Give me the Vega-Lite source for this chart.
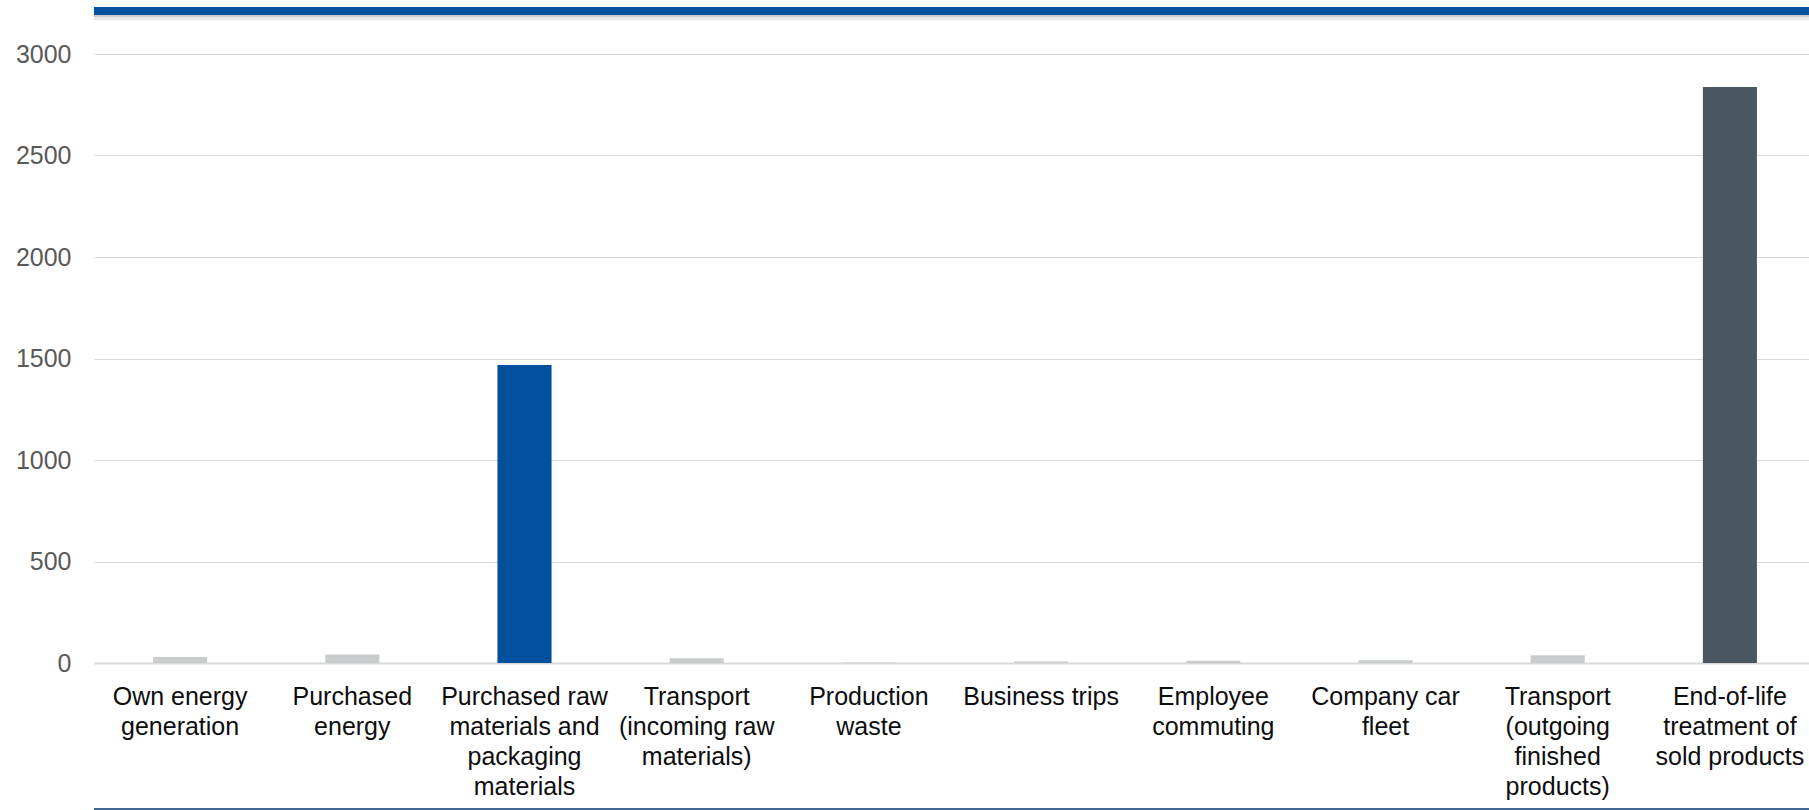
{
  "$schema": "https://vega.github.io/schema/vega-lite/v6.json",
  "autosize": {"type": "none"},
  "width": 1715,
  "height": 609,
  "padding": {"left": 94, "top": 54, "right": 0, "bottom": 147},
  "background": "#ffffff",
  "config": {"view": {"stroke": null}, "font": "Liberation Sans"},
  "layer": [
    {
      "data": {
        "values": [
          {"category": "Own energy generation", "emissions": 30},
          {"category": "Purchased energy", "emissions": 42},
          {"category": "Purchased raw materials and packaging materials", "emissions": 1468},
          {"category": "Transport (incoming raw materials)", "emissions": 23},
          {"category": "Production waste", "emissions": 3},
          {"category": "Business trips", "emissions": 7},
          {"category": "Employee commuting", "emissions": 11},
          {"category": "Company car fleet", "emissions": 13},
          {"category": "Transport (outgoing finished products)", "emissions": 38},
          {"category": "End-of-life treatment of sold products", "emissions": 2837}
        ]
      },
      "mark": {"type": "bar"},
      "encoding": {
        "x": {
          "field": "category",
          "type": "nominal",
          "sort": null,
          "scale": {"range": [0, 1722], "paddingInner": 0.686, "paddingOuter": 0.343},
          "axis": {
            "title": null,
            "labelExpr": "{'Own energy generation':['Own energy','generation'],'Purchased energy':['Purchased','energy'],'Purchased raw materials and packaging materials':['Purchased raw','materials and','packaging','materials'],'Transport (incoming raw materials)':['Transport','(incoming raw','materials)'],'Production waste':['Production','waste'],'Business trips':['Business trips'],'Employee commuting':['Employee','commuting'],'Company car fleet':['Company car','fleet'],'Transport (outgoing finished products)':['Transport','(outgoing','finished','products)'],'End-of-life treatment of sold products':['End-of-life','treatment of','sold products']}[datum.value]",
            "labelFontSize": 25,
            "labelColor": "#0D0D0D",
            "labelLineHeight": 30,
            "labelPadding": 21,
            "labelAngle": 0,
            "labelBaseline": "top",
            "labelLimit": 0,
            "labelOverlap": false,
            "labelBound": false,
            "ticks": false,
            "tickSize": 0,
            "domainColor": "#D9D9D9",
            "domainWidth": 2
          }
        },
        "y": {
          "field": "emissions",
          "type": "quantitative",
          "scale": {"domain": [0, 3000], "nice": false},
          "axis": {
            "title": null,
            "values": [0, 500, 1000, 1500, 2000, 2500, 3000],
            "format": "d",
            "labelFontSize": 25,
            "labelColor": "#595959",
            "labelPadding": 23,
            "ticks": false,
            "tickSize": 0,
            "domain": false,
            "gridColor": "#D9D9D9",
            "gridWidth": 1
          }
        },
        "color": {
          "field": "category",
          "type": "nominal",
          "legend": null,
          "scale": {
            "domain": ["Own energy generation", "Purchased energy", "Purchased raw materials and packaging materials", "Transport (incoming raw materials)", "Production waste", "Business trips", "Employee commuting", "Company car fleet", "Transport (outgoing finished products)", "End-of-life treatment of sold products"],
            "range": ["#C8CCCF", "#C8CCCF", "#00509E", "#C8CCCF", "#C8CCCF", "#C8CCCF", "#C8CCCF", "#C8CCCF", "#C8CCCF", "#4A5761"]
          }
        }
      }
    },
    {
      "data": {"values": [{}]},
      "mark": {"type": "rule", "color": "#e3e3e3", "strokeWidth": 5, "opacity": 0.8},
      "encoding": {"y": {"datum": 3178, "type": "quantitative", "scale": {"domain": [0, 3000], "nice": false}}}
    },
    {
      "data": {"values": [{}]},
      "mark": {"type": "rule", "color": "#c4c4c4", "strokeWidth": 2, "opacity": 0.8},
      "encoding": {"y": {"datum": 3187, "type": "quantitative", "scale": {"domain": [0, 3000], "nice": false}}}
    },
    {
      "data": {"values": [{}]},
      "mark": {"type": "rule", "color": "#00509E", "strokeWidth": 8},
      "encoding": {"y": {"datum": 3212, "type": "quantitative", "scale": {"domain": [0, 3000], "nice": false}}}
    },
    {
      "data": {"values": [{}]},
      "mark": {"type": "rule", "color": "#3D6690", "strokeWidth": 2},
      "encoding": {"y": {"datum": -719, "type": "quantitative", "scale": {"domain": [0, 3000], "nice": false}}}
    }
  ]
}
